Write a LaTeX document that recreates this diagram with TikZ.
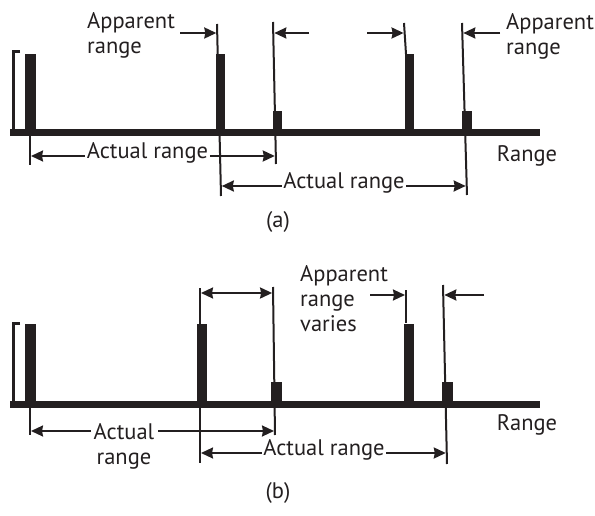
\documentclass[tikz,border=0pt]{standalone}
\usepackage{fontspec}
\setmainfont{PT Sans}
\usetikzlibrary{arrows.meta}
\definecolor{ink}{RGB}{35,31,32}
\begin{document}
\begin{tikzpicture}[x=1pt,y=-1pt,
  axisline/.style={draw=ink, line width=7pt},
  bracketline/.style={draw=ink, line width=3pt},
  pulse/.style={fill=ink},
  guide/.style={draw=ink, line width=2pt},
  tip/.tip={Stealth[length=12pt,width=11pt,inset=1pt]},
  arr/.style={guide, -tip},
  darr/.style={guide, tip-tip},
  lbl/.style={font=\fontsize{22.5}{25}\selectfont, text=ink, inner sep=0pt, align=left},
  mlbl/.style={font=\fontsize{22.5}{25}\selectfont, text=ink, inner sep=1.5pt, anchor=mid},
]
\path[use as bounding box] (0,0) rectangle (595,516);

% ================= (a) =================
\coordinate (L1t) at (217,24);  \coordinate (L1b) at (221,196);
\coordinate (L2t) at (273,22);  \coordinate (L2b) at (276,164);
\coordinate (L4t) at (404,23);  \coordinate (L4b) at (406,54);
\coordinate (L5t) at (462,23);  \coordinate (L5b) at (467,195);
\coordinate (L0t) at (30,135);  \coordinate (L0b) at (30,165);
\draw[guide] (L1t) -- (L1b);
\draw[guide] (L2t) -- (L2b);
\draw[guide] (L4t) -- (L4b);
\draw[guide] (L5t) -- (L5b);
\draw[guide] (L0t) -- (L0b);

\coordinate (axAl) at (10,133); \coordinate (axAr) at (540,133);
\draw[axisline] (axAl) -- (axAr);
\coordinate (brAt) at (20,52); \coordinate (brAc) at (13,52); \coordinate (brAb) at (13,133);
\draw[bracketline] (brAt) -- (brAc) -- (brAb);
\fill[pulse] (25,54) rectangle (36,133);
\fill[pulse] (216,54) rectangle (225,133);
\fill[pulse] (273,111) rectangle (282,133);
\fill[pulse] (405,54) rectangle (414,133);
\fill[pulse] (462,111) rectangle (472,133);

\node[lbl, anchor=north west] (appA1) at (87,12) {Apparent\\range};
\node[lbl, anchor=north west] (appA2) at (506,13) {Apparent\\range};
\node[lbl, anchor=base] (rangeA) at (527,162) {Range};
\node[lbl, anchor=center] (capA) at (278,222) {(a)};

\coordinate (a1s) at (180,33); \coordinate (a1e) at (216.3,33);
\coordinate (a2s) at (309,33); \coordinate (a2e) at (274.3,33);
\coordinate (a3s) at (367,33); \coordinate (a3e) at (403.6,33);
\coordinate (a4s) at (500,33); \coordinate (a4e) at (463.3,33);
\draw[arr] (a1s) -- (a1e);
\draw[arr] (a2s) -- (a2e);
\draw[arr] (a3s) -- (a3e);
\draw[arr] (a4s) -- (a4e);

\node[mlbl] (actA1) at (147.5,156) {Actual range};
\coordinate (r1l) at (31,156); \coordinate (r1r) at (274.8,156);
\draw[arr] (actA1.mid west) -- (r1l);
\draw[arr] (actA1.mid east) -- (r1r);
\node[mlbl] (actA2) at (344,186) {Actual range};
\coordinate (r2l) at (221.8,186); \coordinate (r2r) at (465.7,186);
\draw[arr] (actA2.mid west) -- (r2l);
\draw[arr] (actA2.mid east) -- (r2r);

% ================= (b) =================
\coordinate (M2t) at (200,288); \coordinate (M2b) at (200,463);
\coordinate (M3t) at (273,287); \coordinate (M3b) at (275,435);
\coordinate (M4t) at (406,290); \coordinate (M4b) at (406,323);
\coordinate (M5t) at (443,285); \coordinate (M5b) at (447,464);
\coordinate (M0t) at (30,406);  \coordinate (M0b) at (30,435);
\draw[guide] (M2t) -- (M2b);
\draw[guide] (M3t) -- (M3b);
\draw[guide] (M4t) -- (M4b);
\draw[guide] (M5t) -- (M5b);
\draw[guide] (M0t) -- (M0b);

\coordinate (axBl) at (10,404); \coordinate (axBr) at (540,404);
\draw[axisline] (axBl) -- (axBr);
\coordinate (brBt) at (20,323); \coordinate (brBc) at (13,323); \coordinate (brBb) at (13,404);
\draw[bracketline] (brBt) -- (brBc) -- (brBb);
\fill[pulse] (25,324) rectangle (36,404);
\fill[pulse] (197,324) rectangle (207,404);
\fill[pulse] (271,382) rectangle (282,404);
\fill[pulse] (404,324) rectangle (414,404);
\fill[pulse] (442,382) rectangle (453,404);

\node[lbl, anchor=north west] (appB) at (300,265) {Apparent\\range\\varies};
\node[lbl, anchor=base] (rangeB) at (527,430) {Range};
\node[lbl, anchor=center] (capB) at (278,493) {(b)};

\coordinate (d1) at (201,293); \coordinate (d2) at (272.1,293);
\draw[darr] (d1) -- (d2);
\coordinate (b3s) at (370,295); \coordinate (b3e) at (405,295);
\coordinate (b4s) at (484,295); \coordinate (b4e) at (444.3,295);
\draw[arr] (b3s) -- (b3e);
\draw[arr] (b4s) -- (b4e);

\node[lbl, anchor=north, align=center] (actB1) at (124,423) {Actual\\range};
\coordinate (s1l) at (91,431); \coordinate (s1r) at (158,431);
\coordinate (q1l) at (31,431); \coordinate (q1r) at (274,431);
\draw[arr] (s1l) -- (q1l);
\draw[arr] (s1r) -- (q1r);
\node[mlbl] (actB2) at (324,453) {Actual range};
\coordinate (q2l) at (201,453); \coordinate (q2r) at (445.8,453);
\draw[arr] (actB2.mid west) -- (q2l);
\draw[arr] (actB2.mid east) -- (q2r);
\end{tikzpicture}
\end{document}
